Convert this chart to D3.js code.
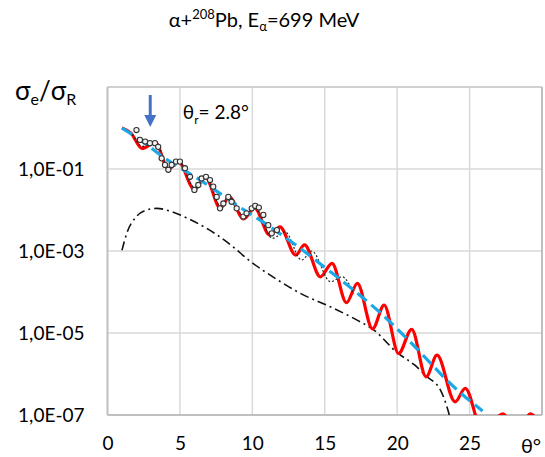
<!DOCTYPE html>
<html>
<head>
<meta charset="utf-8">
<script src="https://cdn.jsdelivr.net/npm/d3@7"></script>
<style>
  body { margin: 0; background: #fff; }
  svg { font-family: Lato, "Open Sans", sans-serif; }
</style>
</head>
<body>
<div class="chart"></div>
<script>
var svgWidth = 545;
var svgHeight = 457;

var margin = { top: 87, right: 3, bottom: 42, left: 107.5 };
var width = svgWidth - margin.left - margin.right;
var height = svgHeight - margin.top - margin.bottom;

// x ticks (degrees) and y ticks (powers of ten)
var xTicks = [0, 5, 10, 15, 20, 25];
var yTicks = [1e-7, 1e-5, 1e-3, 1e-1];
var yTickLabels = ["1,0E-07", "1,0E-05", "1,0E-03", "1,0E-01"];

// blue dashed: theta, log10(sigma)
var blueTheta = [1, 2, 3, 4, 5, 6, 7, 8, 9, 10, 11, 12, 13, 14, 15, 16, 17, 18, 19, 20, 21, 22, 23, 24, 25, 25.9];
var blueLog = [0.0, -0.22, -0.48, -0.76, -0.97, -1.18, -1.41, -1.65, -1.9, -2.13, -2.35, -2.6, -2.85, -3.12, -3.4, -3.67, -3.95, -4.25, -4.55, -4.9, -5.25, -5.62, -6.0, -6.35, -6.65, -6.9];

// red solid
var redTheta = [1.0, 1.6, 2.4, 3.3, 4.2, 4.9, 6.0, 6.75, 7.8, 8.4, 9.4, 10.15, 11.2, 11.9, 13.0, 13.6, 14.7, 15.5, 16.5, 17.25, 18.3, 19.1, 20.1, 21.0, 22.0, 22.75, 24.0, 24.7, 25.9, 27.3, 28.3, 29.2, 30];
var redLog = [0.0, -0.12, -0.5, -0.35, -1.0, -0.82, -1.5, -1.19, -1.96, -1.68, -2.22, -1.95, -2.61, -2.41, -3.1, -2.85, -3.63, -3.3, -4.26, -3.79, -4.9, -4.32, -5.5, -4.91, -6.07, -5.54, -6.68, -6.35, -7.4, -6.97, -7.5, -6.97, -7.4];

// black dotted
var dotTheta = [1.0, 1.6, 2.4, 3.3, 4.2, 4.9, 6.0, 6.75, 7.8, 8.4, 9.4, 10.15, 11.4, 12.25, 13.4, 14.1, 15.4, 16.2, 17.0];
var dotLog = [0.0, -0.12, -0.45, -0.33, -0.95, -0.8, -1.45, -1.19, -1.9, -1.68, -2.15, -1.95, -2.69, -2.53, -3.22, -3.0, -3.75, -3.63, -4.05];

// black dash-dot
var ddTheta = [1.0, 1.33, 2.0, 2.7, 3.4, 4.5, 5.5, 7.0, 8.5, 9.85, 11.5, 13.3, 15.5, 17.2, 18.4, 20.0, 21.2, 22.0, 23.0, 23.6, 24.0];
var ddLog = [-2.98, -2.57, -2.16, -2.0, -1.96, -2.05, -2.2, -2.48, -2.85, -3.25, -3.65, -4.03, -4.38, -4.68, -4.93, -5.48, -5.78, -6.05, -6.4, -7.0, -7.6];

// measured points
var expTheta = [2.0, 2.24, 2.6, 2.93, 3.28, 3.5, 3.74, 3.97, 4.2, 4.43, 4.73, 5.0, 5.35, 5.7, 6.0, 6.27, 6.5, 6.8, 7.08, 7.3, 7.54, 7.77, 8.0, 8.34, 8.57, 8.92, 9.38, 9.6, 9.96, 10.2, 10.45, 10.76, 11.1, 11.34, 11.7];
var expLog = [-0.05, -0.29, -0.33, -0.37, -0.37, -0.46, -0.74, -0.9, -1.02, -0.9, -0.82, -0.82, -0.98, -1.19, -1.51, -1.39, -1.23, -1.19, -1.27, -1.43, -1.68, -1.96, -1.84, -1.68, -1.8, -1.96, -2.16, -2.08, -1.96, -1.9, -1.94, -2.12, -2.37, -2.57, -2.49];

var svg = d3.select(".chart")
  .append("svg")
  .attr("width", svgWidth)
  .attr("height", svgHeight);

var chartGroup = svg.append("g")
  .attr("transform", `translate(${margin.left}, ${margin.top})`);

var x = d3.scaleLinear().domain([0, 30]).range([0, width]);
var y = d3.scaleLog().domain([1e-7, 10]).range([height, 0]);

function pts(t, l) {
  return t.map((d, i) => [d, Math.pow(10, l[i])]);
}

// grid
chartGroup.selectAll(".vgrid")
  .data(xTicks.slice(1))
  .enter().append("line")
  .attr("x1", d => x(d)).attr("x2", d => x(d))
  .attr("y1", 0).attr("y2", height)
  .attr("stroke", "#d9d9d9").attr("stroke-width", 1.5);

chartGroup.selectAll(".hgrid")
  .data(yTicks.slice(1))
  .enter().append("line")
  .attr("x1", 0).attr("x2", width)
  .attr("y1", d => y(d)).attr("y2", d => y(d))
  .attr("stroke", "#d9d9d9").attr("stroke-width", 1.5);

// frame
chartGroup.append("line").attr("x1", 0).attr("x2", width).attr("y1", 0).attr("y2", 0)
  .attr("stroke", "#d0d0d0").attr("stroke-width", 2);
chartGroup.append("line").attr("x1", width).attr("x2", width).attr("y1", 0).attr("y2", height)
  .attr("stroke", "#bfbfbf").attr("stroke-width", 2);
chartGroup.append("line").attr("x1", 0).attr("x2", 0).attr("y1", 0).attr("y2", height)
  .attr("stroke", "#bfbfbf").attr("stroke-width", 2);
chartGroup.append("line").attr("x1", 0).attr("x2", width).attr("y1", height).attr("y2", height)
  .attr("stroke", "#bfbfbf").attr("stroke-width", 2);

// axes labels
var bottomAxis = d3.axisBottom(x).tickValues(xTicks).tickSize(0).tickPadding(22).tickFormat(d3.format("d"));
var leftAxis = d3.axisLeft(y).tickValues(yTicks).tickSize(0).tickPadding(23)
  .tickFormat((d, i) => yTickLabels[i]);

var xAxisG = chartGroup.append("g")
  .attr("transform", `translate(0, ${height})`)
  .call(bottomAxis);
var yAxisG = chartGroup.append("g").call(leftAxis);

[xAxisG, yAxisG].forEach(function(g) {
  g.select(".domain").remove();
  g.selectAll("text").attr("font-family", "Lato, sans-serif").attr("font-size", 19).attr("fill", "#000");
});

// clipped lines
svg.append("defs").append("clipPath").attr("id", "clip")
  .append("rect").attr("x", 0).attr("y", -5).attr("width", width).attr("height", height + 5);

var line = d3.line()
  .x(d => x(d[0]))
  .y(d => y(d[1]))
  .curve(d3.curveMonotoneX);

var plot = chartGroup.append("g").attr("clip-path", "url(#clip)");

plot.append("path")
  .attr("d", line(pts(ddTheta, ddLog)))
  .attr("fill", "none").attr("stroke", "#111").attr("stroke-width", 1.6)
  .attr("stroke-dasharray", "9,4,2,4");

plot.append("path")
  .attr("d", line(pts(redTheta, redLog)))
  .attr("fill", "none").attr("stroke", "#ff0000").attr("stroke-width", 3.2);

plot.append("path")
  .attr("d", line(pts(dotTheta, dotLog)))
  .attr("fill", "none").attr("stroke", "#222").attr("stroke-width", 1.2)
  .attr("stroke-dasharray", "2,2");

plot.append("path")
  .attr("d", d3.line().x(d => x(d[0])).y(d => y(d[1])).curve(d3.curveBasis)(pts(blueTheta, blueLog)))
  .attr("fill", "none").attr("stroke", "#1aa8e6").attr("stroke-width", 3.2)
  .attr("stroke-dasharray", "12,6");

plot.selectAll("circle")
  .data(pts(expTheta, expLog))
  .enter().append("circle")
  .attr("cx", d => x(d[0]))
  .attr("cy", d => y(d[1]))
  .attr("r", 2.6)
  .attr("fill", "#f2f2f2")
  .attr("stroke", "#333")
  .attr("stroke-width", 1.1);

// arrow at theta_r
var ax = x(2.95);
chartGroup.append("line")
  .attr("x1", ax).attr("x2", ax).attr("y1", 8).attr("y2", 30)
  .attr("stroke", "#4472c4").attr("stroke-width", 3);
chartGroup.append("path")
  .attr("d", `M${ax - 6},28 L${ax + 6},28 L${ax},40 Z`)
  .attr("fill", "#4472c4");

// annotation
var ann = chartGroup.append("text")
  .attr("x", x(5.2)).attr("y", 32)
  .attr("font-size", 19).attr("fill", "#000");
ann.append("tspan").text("θ");
ann.append("tspan").text("r").attr("font-size", 12).attr("dy", 5);
ann.append("tspan").text("= 2.8°").attr("dy", -5);

// x axis title
svg.append("text")
  .attr("x", 531).attr("y", 453)
  .attr("text-anchor", "middle")
  .attr("font-size", 20)
  .text("θ°");

// y axis title
var yt = svg.append("text")
  .attr("x", 15).attr("y", 100)
  .attr("font-size", 26);
yt.append("tspan").text("σ");
yt.append("tspan").text("e").attr("font-size", 16).attr("dy", 5);
yt.append("tspan").text("/σ").attr("dy", -5);
yt.append("tspan").text("R").attr("font-size", 16).attr("dy", 5);

// title
var title = svg.append("text")
  .attr("x", 264).attr("y", 27)
  .attr("text-anchor", "middle")
  .attr("font-size", 20);
title.append("tspan").text("α+");
title.append("tspan").text("208").attr("font-size", 13).attr("dy", -8);
title.append("tspan").text("Pb, E").attr("dy", 8);
title.append("tspan").text("α").attr("font-size", 13).attr("dy", 4);
title.append("tspan").text("=699 MeV").attr("dy", -4);
</script>
</body>
</html>
